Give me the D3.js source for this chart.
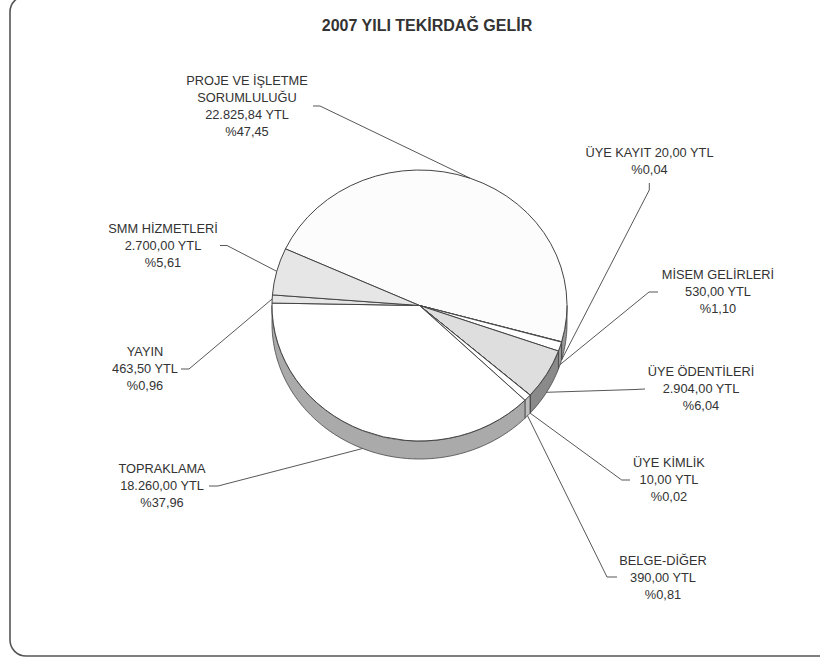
<!DOCTYPE html>
<html><head><meta charset="utf-8">
<script src="https://cdn.jsdelivr.net/npm/d3@7"></script>
<style>html,body{margin:0;padding:0;background:#fff}svg{display:block}text{font-family:"Liberation Sans",Arial,sans-serif;fill:#333}</style>
</head><body><svg id="c" width="820" height="660"></svg>
<script>
const title = "2007 YILI TEKİRDAĞ GELİR";
const categories = ["PROJE VE İŞLETME SORUMLULUĞU","ÜYE KAYIT","MİSEM GELİRLERİ","ÜYE ÖDENTİLERİ","ÜYE KİMLİK","BELGE-DİĞER","TOPRAKLAMA","YAYIN","SMM HİZMETLERİ"];
const values = [22825.84,20,530,2904,10,390,18260,463.5,2700];
const labelLines = [
 ["PROJE VE İŞLETME","SORUMLULUĞU","22.825,84 YTL","%47,45"],
 ["ÜYE KAYIT 20,00 YTL","%0,04"],
 ["MİSEM GELİRLERİ","530,00 YTL","%1,10"],
 ["ÜYE ÖDENTİLERİ","2.904,00 YTL","%6,04"],
 ["ÜYE KİMLİK","10,00 YTL","%0,02"],
 ["BELGE-DİĞER","390,00 YTL","%0,81"],
 ["TOPRAKLAMA","18.260,00 YTL","%37,96"],
 ["YAYIN","463,50 YTL","%0,96"],
 ["SMM HİZMETLERİ","2.700,00 YTL","%5,61"]
];
const topColors = ["#fcfcfc","#ffffff","#ffffff","#dedede","#d8d8d8","#ffffff","#ffffff","#e6e6e6","#e6e6e6"];
const sideColors = ["#999999","#9a9a9a","#999999","#8a8a8a","#777777","#bdbdbd","#aaaaaa","#aaaaaa","#aaaaaa"];
// layout: label centre x, first baseline y, leader elbow points
const labelPos = [[247,85],[649.5,157],[718,279],[701,376],[669,467],[663,565],[162,473],[145,356],[163,233]];
const leaderTo = [[[320,106],[313,106]],[[649.3,190],[649.3,183]],[[649,292],[658,292]],[[635,389.5],[645,389]],[[621.7,480],[630,480]],[[607,577],[617,577]],[[218,486],[209,486]],[[189,369],[181,369]],[[227,245.5],[220,245.5]]];

const cx=419.5,cy=305.5,rx=147.5,ry=135.5,depth=18,startDeg=-65.3;
const svg=d3.select("#c");
const rad=d3.scaleLinear().domain([0,360]).range([0,2*Math.PI]);
const arcs=d3.pie().sort(null).value(d=>d).startAngle(rad(startDeg)).endAngle(rad(startDeg+360))(values);
const P=(a,dz=0)=>[cx+rx*Math.sin(a),cy-ry*Math.cos(a)+dz];

// frame
svg.append("rect").attr("x",10).attr("y",-4).attr("width",824).attr("height",660).attr("rx",16)
  .attr("fill","#fff").attr("stroke","#555").attr("stroke-width",1.6);
svg.append("text").attr("x",427).attr("y",31).attr("text-anchor","middle").attr("font-size",16).attr("font-weight","bold").text(title);

const stroke="#444";
const line=d3.line();
// sides
const lo=Math.PI/2, hi=3*Math.PI/2;
arcs.forEach((d,i)=>{
  const a0=Math.max(d.startAngle,lo), a1=Math.min(d.endAngle,hi);
  if(a1<=a0) return;
  const n=Math.max(2,Math.ceil((a1-a0)*60));
  const t=d3.range(n+1).map(k=>a0+(a1-a0)*k/n);
  const pts=t.map(a=>P(a)).concat(t.slice().reverse().map(a=>P(a,depth)));
  svg.append("path").attr("d",line(pts)+"Z").attr("fill",sideColors[i]).attr("stroke",stroke).attr("stroke-width",0.8);
});
// top faces
arcs.forEach((d,i)=>{
  const p0=P(d.startAngle),p1=P(d.endAngle);
  const large=(d.endAngle-d.startAngle)>Math.PI?1:0;
  svg.append("path").attr("d",`M${cx},${cy}L${p0}A${rx},${ry} 0 ${large} 1 ${p1}Z`)
    .attr("fill",topColors[i]).attr("stroke",stroke).attr("stroke-width",1).attr("stroke-linejoin","round");
});
// leaders & labels
arcs.forEach((d,i)=>{
  const m=(d.startAngle+d.endAngle)/2;
  const front=Math.cos(m)<0;
  const pts=[P(m,front?depth:0)].concat(leaderTo[i]);
  svg.append("path").attr("d",line(pts)).attr("fill","none").attr("stroke","#444").attr("stroke-width",0.9);
  const t=svg.append("text").attr("font-size",12.8).attr("text-anchor","middle");
  labelLines[i].forEach((s,k)=>t.append("tspan").attr("x",labelPos[i][0]).attr("y",labelPos[i][1]+k*17).text(s));
});
</script></body></html>
